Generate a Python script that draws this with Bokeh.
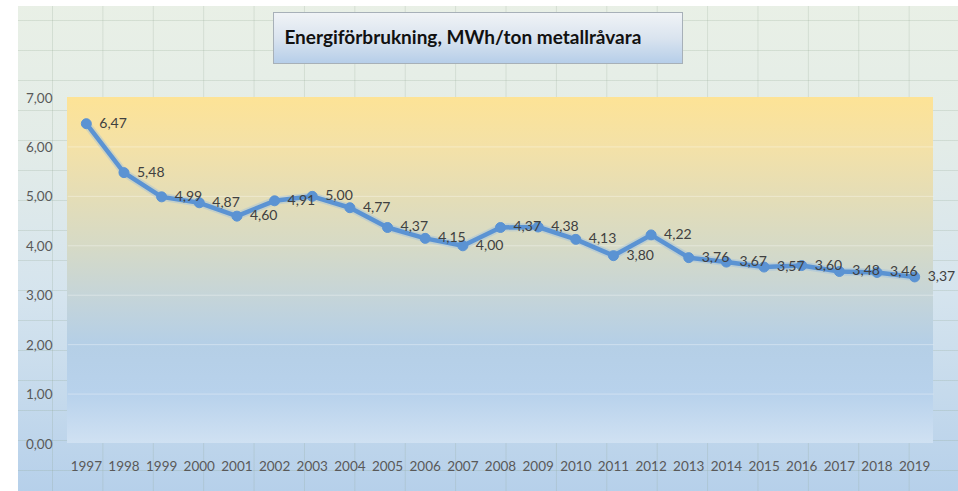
from bokeh.plotting import figure
from bokeh.models import ColumnDataSource, LabelSet, Label, Range1d, FixedTicker
from bokeh.core.properties import value
from bokeh.embed import file_html
from bokeh.resources import INLINE

# ---- data ----
years = ["1997", "1998", "1999", "2000", "2001", "2002", "2003", "2004", "2005", "2006",
         "2007", "2008", "2009", "2010", "2011", "2012", "2013", "2014", "2015", "2016",
         "2017", "2018", "2019"]
values = [6.47, 5.48, 4.99, 4.87, 4.60, 4.91, 5.00, 4.77, 4.37, 4.15,
          4.00, 4.37, 4.38, 4.13, 3.80, 4.22, 3.76, 3.67, 3.57, 3.60,
          3.48, 3.46, 3.37]
y_ticks = [0, 1, 2, 3, 4, 5, 6, 7]
y_tick_labels = ["0,00", "1,00", "2,00", "3,00", "4,00", "5,00", "6,00", "7,00"]
title_text = "Energiförbrukning, MWh/ton metallråvara"

x_idx = list(range(len(years)))
value_labels = [f"{v:.2f}".replace(".", ",") for v in values]
src = ColumnDataSource(dict(x=x_idx, y=values, lbl=value_labels))

FONT = "Lato"

# layout (pixels): plot area x 67..933, y 97..443
W, H = 958, 491
PL, PR, PT, PB = 67, 933, 97, 443
n = len(years)
px_per_x = (PR - PL) / n
px_per_y = (PB - PT) / (y_ticks[-1] - y_ticks[0])
x_start = -0.5
x_end = x_start + (W - PL) / px_per_x
y_end = PB / px_per_y  # frame extends to the top of the canvas

p = figure(width=W, height=H, output_backend="svg", toolbar_location=None,
           x_range=Range1d(x_start, x_end), y_range=Range1d(0, y_end),
           min_border_left=PL, min_border_right=0, min_border_top=0, min_border_bottom=H - PB)

p.background_fill_color = None
p.border_fill_color = None
p.outline_line_color = None

bg = ", ".join([
    "linear-gradient(#ffffff, #ffffff) 0 0 / 18px 100% no-repeat",
    "linear-gradient(#ffffff, #ffffff) 0 0 / 100% 6px no-repeat",
    "linear-gradient(to bottom, #f0f3f6 0%, #dae4ef 50%, #b6cee9 100%) 274px 13px / 408px 50px no-repeat",
    "linear-gradient(#a7b0b8, #a7b0b8) 273px 12px / 410px 52px no-repeat",
    "linear-gradient(to bottom, #fde396 0%, #f3e1a8 15%, #e3ddb8 30%, #d6dac6 43%, #c6d5d8 57%, #b5cfe6 71%, #b8d2ec 86%, #d0e1f2 100%) 67px 97px / 866px 346px no-repeat",
    "linear-gradient(to right, rgba(140,160,140,0.22) 0 1px, transparent 1px) 52px 0 / 50.4px 100%",
    "linear-gradient(to bottom, rgba(140,160,140,0.22) 0 1px, transparent 1px) 0 20px / 100% 30px",
    "linear-gradient(to bottom, #e9f0e6 0%, #e3ece8 30%, #d5e4ee 60%, #b6d0ea 100%)",
])
p.styles = {"background": bg}

# grid (only inside the plot area)
p.xgrid.grid_line_color = None
p.ygrid.grid_line_color = None
inner = y_ticks[1:-1]
p.segment(x0=[x_start] * len(inner), x1=[n - 0.5] * len(inner), y0=inner, y1=inner,
          line_color="white", line_alpha=0.35, line_width=1)

# axes
p.yaxis.ticker = FixedTicker(ticks=y_ticks)
p.yaxis.major_label_overrides = {t: l for t, l in zip(y_ticks, y_tick_labels)}
p.xaxis.ticker = FixedTicker(ticks=x_idx)
p.xaxis.major_label_overrides = {i: y for i, y in zip(x_idx, years)}
for ax in (p.xaxis, p.yaxis):
    ax.axis_line_color = None
    ax.major_tick_line_color = None
    ax.minor_tick_line_color = None
    ax.major_tick_out = 0
    ax.major_tick_in = 0
    ax.major_label_text_font = FONT
    ax.major_label_text_font_size = "13.5px"
    ax.major_label_text_color = "#595959"
p.yaxis.major_label_standoff = 15
p.xaxis.major_label_standoff = 17

# line + markers
p.line("x", "y", source=src, line_color="#8fb6e3", line_width=8, line_alpha=0.35)
p.line("x", "y", source=src, line_color="#5b93d3", line_width=4.5)
p.scatter("x", "y", source=src, size=10, fill_color="#5b93d3", line_color="#5b93d3")

labels = LabelSet(x="x", y="y", text="lbl", source=src, x_offset=13, y_offset=1,
                  text_font=value(FONT), text_font_size=value("14px"), text_color="#404040",
                  text_align="left", text_baseline="middle")
p.add_layout(labels)

title = Label(x=10.0, y=8.234, text=title_text, text_font=FONT, text_font_size="19px",
              text_font_style="bold", text_color="#111111",
              text_align="center", text_baseline="middle")
p.add_layout(title)

open("out.html", "w").write(file_html(p, INLINE))
